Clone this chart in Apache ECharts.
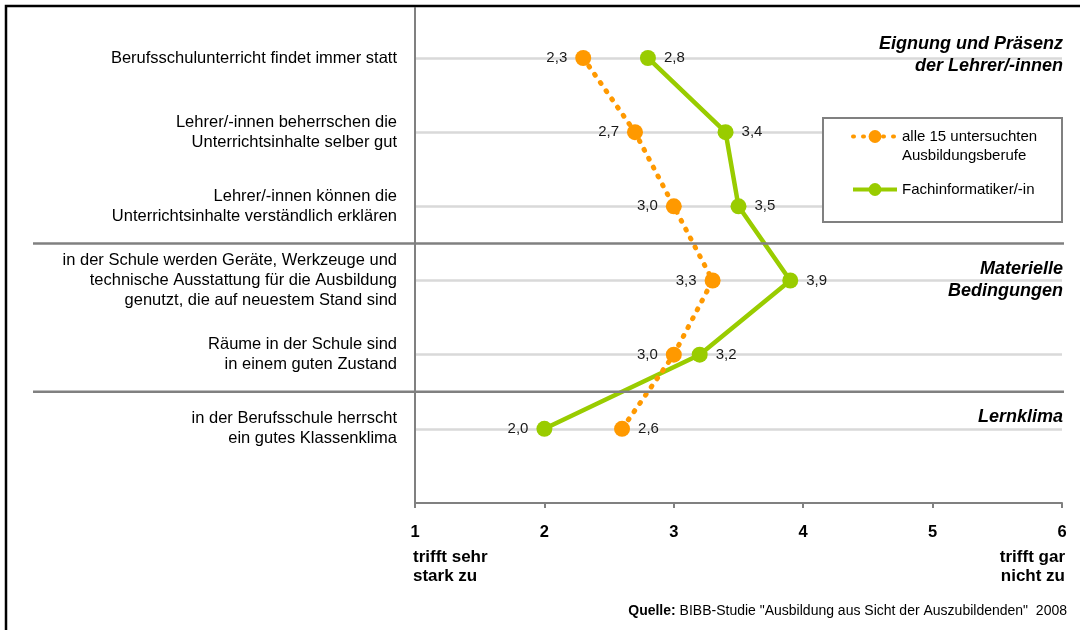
<!DOCTYPE html>
<html>
<head>
<meta charset="utf-8">
<script src="https://cdn.jsdelivr.net/npm/echarts@6/dist/echarts.min.js"></script>
<style>
html,body{margin:0;padding:0;background:#fff;}
#chart{width:1080px;height:630px;}
</style>
</head>
<body>
<div id="chart"></div>
<script>
// ---- data ----
const categories = [
  'Berufsschulunterricht findet immer statt',
  'Lehrer/-innen beherrschen die\nUnterrichtsinhalte selber gut',
  'Lehrer/-innen können die\nUnterrichtsinhalte verständlich erklären',
  'in der Schule werden Geräte, Werkzeuge und\ntechnische Ausstattung für die Ausbildung\ngenutzt, die auf neuestem Stand sind',
  'Räume in der Schule sind\nin einem guten Zustand',
  'in der Berufsschule herrscht\nein gutes Klassenklima'
];
const seriesNames = ['alle 15 untersuchten\nAusbildungsberufe', 'Fachinformatiker/-in'];
const allValues = [2.3, 2.7, 3.0, 3.3, 3.0, 2.6];
const fachValues = [2.8, 3.4, 3.5, 3.9, 3.2, 2.0];
const xTicks = [1, 2, 3, 4, 5, 6];
const scaleLow = 'trifft sehr\nstark zu';
const scaleHigh = 'trifft gar\nnicht zu';
const groupTitles = ['Eignung und Präsenz\nder Lehrer/-innen', 'Materielle\nBedingungen', 'Lernklima'];
const groupBreaks = [3.5, 1.5]; // boundaries between groups (in row units)
const sourceLabel = 'Quelle:';
const sourceText = ' BIBB-Studie "Ausbildung aus Sicht der Auszubildenden"  2008';

// ---- build ----
const n = categories.length;
const rowY = categories.map((c, i) => n - i);
const fmt = v => v.toFixed(1).replace('.', ',');

function buildData(vals, other) {
  return vals.map((v, i) => ({
    value: [v, rowY[i]],
    label: { position: v < other[i] ? 'left' : 'right' }
  }));
}

const FONT = '"Liberation Sans", Arial, sans-serif';
const chart = echarts.init(document.getElementById('chart'), null, { renderer: 'canvas' });

const option = {
  backgroundColor: '#fff',
  animation: false,
  textStyle: { fontFamily: FONT },
  grid: { left: 415, right: 18, top: 8, bottom: 127, containLabel: false },
  xAxis: {
    type: 'value', min: xTicks[0], max: xTicks[xTicks.length - 1], interval: 1,
    axisLine: { lineStyle: { color: '#808080', width: 2 } },
    axisTick: { show: true, length: 5, lineStyle: { color: '#808080', width: 2 } },
    axisLabel: { color: '#000', fontSize: 16.5, fontWeight: 'bold', margin: 21, fontFamily: FONT },
    splitLine: { show: false }
  },
  yAxis: {
    type: 'value', min: 0, max: n + 50 / 74.2, interval: 1,
    axisLine: { show: true, lineStyle: { color: '#808080', width: 2 } },
    axisTick: { show: false },
    axisLabel: {
      color: '#000', fontSize: 16.5, lineHeight: 20, margin: 18, fontFamily: FONT, align: 'right',
      showMaxLabel: false,
      formatter: v => {
        const i = rowY.indexOf(Math.round(v * 1000) / 1000);
        return i >= 0 ? categories[i] : '';
      }
    },
    splitLine: { show: true, showMinLine: false, showMaxLine: false, lineStyle: { color: '#D9D9D9', width: 2.5 } }
  },
  legend: {
    orient: 'vertical', left: 846, top: 103, itemWidth: 44, itemHeight: 16, itemGap: 15, z: 10,
    textStyle: { fontSize: 15, lineHeight: 19, color: '#000', fontFamily: FONT },
    lineStyle: { width: 4 },
    // multi-line names: keep the icon aligned with the first text line
    formatter: name => name.indexOf('\n') >= 0 ? '\n' + name : name,
    data: [{ name: seriesNames[0] }, { name: seriesNames[1] }]
  },
  series: [
    {
      name: seriesNames[0], type: 'line', z: 3,
      data: buildData(allValues, fachValues),
      symbol: 'circle', symbolSize: 16,
      itemStyle: { color: '#FF9900' },
      lineStyle: { color: '#FF9900', width: 5, type: [1, 9], cap: 'round' },
      label: { show: true, distance: 8, fontSize: 15, color: '#1a1a1a', fontFamily: FONT, formatter: p => fmt(p.value[0]) }
    },
    {
      name: seriesNames[1], type: 'line', z: 2,
      data: buildData(fachValues, allValues),
      symbol: 'circle', symbolSize: 16,
      itemStyle: { color: '#99CC00' },
      lineStyle: { color: '#99CC00', width: 4.5 },
      label: { show: true, distance: 8, fontSize: 15, color: '#1a1a1a', fontFamily: FONT, formatter: p => fmt(p.value[0]) }
    }
  ]
};
chart.setOption(option);

// ---- decorations positioned through the axes ----
const px = (x, y) => chart.convertToPixel({ gridIndex: 0 }, [x, y]);
const xLeft = px(1, 0)[0], xRight = px(6, 0)[0];
const graphics = [];
graphics.push({ type: 'rect', silent: true, z: 100, shape: { x: 6, y: 6, width: 1100, height: 700 }, style: { fill: null, stroke: '#000', lineWidth: 2.5 } });
groupBreaks.forEach(b => {
  const y = px(1, b)[1];
  graphics.push({ type: 'line', silent: true, z: 5, shape: { x1: 33, y1: y, x2: xRight + 2, y2: y }, style: { stroke: '#808080', lineWidth: 2.5 } });
});
// legend box (below the legend, above grid lines)
graphics.push({ type: 'rect', silent: true, z: 1, shape: { x: 823, y: 118, width: 239, height: 104 }, style: { fill: '#fff', stroke: '#808080', lineWidth: 2 } });
// group titles
const titlePos = [[1063, 33], [1063, 258], [1063, 406]];
groupTitles.forEach((t, i) => {
  graphics.push({ type: 'text', silent: true, z: 6, x: titlePos[i][0], y: titlePos[i][1], style: { text: t, align: 'right', verticalAlign: 'top', font: 'italic bold 18px ' + FONT, lineHeight: 22, fill: '#000' } });
});
// scale end labels
graphics.push({ type: 'text', silent: true, x: xLeft - 2, y: 548, style: { text: scaleLow, align: 'left', verticalAlign: 'top', font: 'bold 17px ' + FONT, lineHeight: 19, fill: '#000' } });
graphics.push({ type: 'text', silent: true, x: xRight + 3, y: 548, style: { text: scaleHigh, align: 'right', verticalAlign: 'top', font: 'bold 17px ' + FONT, lineHeight: 19, fill: '#000' } });
// source
graphics.push({ type: 'text', silent: true, x: 1067, y: 611, style: { text: '{b|' + sourceLabel + '}{n|' + sourceText + '}', align: 'right', verticalAlign: 'middle', rich: { b: { font: 'bold 14px ' + FONT, fill: '#000' }, n: { font: '14px ' + FONT, fill: '#000' } } } });
chart.setOption({ graphic: graphics });
</script>
</body>
</html>
